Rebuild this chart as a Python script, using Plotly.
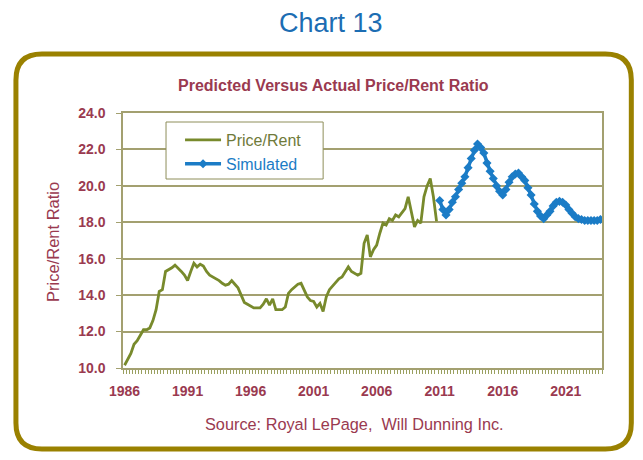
import plotly.graph_objects as go

# ---------------- data ----------------
start_year = 1986
end_year = 2023
quarters = [f"{y}Q{q}" for y in range(start_year, end_year + 1) for q in range(1, 5)]

price_rent = [
    10.15, 10.5, 10.8, 11.3,    # 1986
    11.5, 11.8, 12.1, 12.1,     # 1987
    12.2, 12.6, 13.2, 14.2,     # 1988
    14.3, 15.3, 15.4, 15.5,     # 1989
    15.65, 15.5, 15.3, 15.1,    # 1990
    14.8, 15.3, 15.75, 15.55,   # 1991
    15.7, 15.6, 15.3, 15.1,     # 1992
    15.0, 14.9, 14.8, 14.65,    # 1993
    14.55, 14.6, 14.8, 14.6,    # 1994
    14.4, 14.0, 13.6, 13.5,     # 1995
    13.4, 13.3, 13.3, 13.3,     # 1996
    13.5, 13.8, 13.45, 13.8,    # 1997
    13.2, 13.2, 13.2, 13.35,    # 1998
    14.1, 14.3, 14.45, 14.6,    # 1999
    14.65, 14.3, 13.9, 13.7,    # 2000
    13.65, 13.35, 13.55, 13.1,  # 2001
    13.9, 14.3, 14.5, 14.75,    # 2002
    14.9, 15.0, 15.3, 15.55,    # 2003
    15.3, 15.2, 15.1, 15.2,     # 2004
    16.85, 17.3, 16.1, 16.5,    # 2005
    16.75, 17.4, 17.95, 17.85,  # 2006
    18.2, 18.1, 18.4, 18.3,     # 2007
    18.5, 18.75, 19.4, 18.6,    # 2008
    17.75, 18.1, 17.95, 19.4,   # 2009
    20.0, 20.4, 19.4, 18.05,    # 2010
]

simulated = [
    19.2, 18.7, 18.4, 18.7,     # 2011
    19.1, 19.4, 19.8, 20.15,    # 2012
    20.5, 21.0, 21.5, 21.95,    # 2013
    22.3, 22.1, 21.8, 21.25,    # 2014
    20.8, 20.4, 20.0, 19.7,     # 2015
    19.5, 19.8, 20.2, 20.5,     # 2016
    20.65, 20.7, 20.5, 20.3,    # 2017
    19.9, 19.5, 19.0, 18.6,     # 2018
    18.35, 18.2, 18.4, 18.6,    # 2019
    18.9, 19.1, 19.15, 19.1,    # 2020
    18.95, 18.7, 18.5, 18.3,    # 2021
    18.2, 18.15, 18.1, 18.1,    # 2022
    18.1, 18.1, 18.1, 18.15,    # 2023
]

tick_labels = ["1986", "1991", "1996", "2001", "2006", "2011", "2016", "2021"]
y_ticks = [10, 12, 14, 16, 18, 20, 22, 24]

# ---------------- styling ----------------
OFF = 8  # page body margin offset
W, H = 643 - 2 * OFF, 460 - 2 * OFF
ML, MT = 123 - OFF, 113 - OFF
PW, PH = 478.7, 255
MR = W - ML - PW
MB = H - MT - PH

MAROON = "#9a3a50"
GREEN = "#788a2c"
BLUE = "#1b7cc6"
GRID = "#a3a070"
GOLD = "#9a8100"
FONT = "Liberation Sans, Arial, sans-serif"

idx = list(range(len(quarters)))
green_x = idx[:len(price_rent)]
blue_x = idx[len(price_rent):len(price_rent) + len(simulated)]
tick_pos = [quarters.index(f"{t}Q1") for t in tick_labels]

fig = go.Figure()
fig.add_trace(go.Scatter(
    x=green_x, y=price_rent, mode="lines", legendgroup="a",
    name="<span style='color:#6f7a3a'>Price/Rent</span>",
    line=dict(color=GREEN, width=2.8),
))
fig.add_trace(go.Scatter(
    x=blue_x, y=simulated, mode="lines+markers", legendgroup="b",
    name=f"<span style='color:{BLUE}'>Simulated</span>",
    line=dict(color=BLUE, width=3.5),
    marker=dict(symbol="diamond", size=7, color=BLUE),
))


def px2paper(x, y):
    """reference-image pixel -> paper coords"""
    x, y = x - OFF, y - OFF
    return (x - ML) / PW, (MT + PH - y) / PH


def rounded_rect(x0, y0, x1, y1, r):
    def P(x, y):
        a, b = px2paper(x, y)
        return f"{a:.5f},{b:.5f}"
    return (
        f"M {P(x0 + r, y0)} L {P(x1 - r, y0)} Q {P(x1, y0)} {P(x1, y0 + r)} "
        f"L {P(x1, y1 - r)} Q {P(x1, y1)} {P(x1 - r, y1)} "
        f"L {P(x0 + r, y1)} Q {P(x0, y1)} {P(x0, y1 - r)} "
        f"L {P(x0, y0 + r)} Q {P(x0, y0)} {P(x0 + r, y0)} Z"
    )


# outer rounded frame
fig.add_shape(type="path", xref="paper", yref="paper",
              path=rounded_rect(16, 54, 631, 449, 26),
              line=dict(color=GOLD, width=5), layer="below")

# legend box
bx0, by0 = px2paper(166, 122)
bx1, by1 = px2paper(323, 179)
fig.add_shape(type="rect", xref="paper", yref="paper",
              x0=bx0, y0=by0, x1=bx1, y1=by1,
              line=dict(color="#8e8e5a", width=1), fillcolor="white", layer="above")

lx, ly = px2paper(180, 123)
fig.update_layout(
    width=W, height=H,
    margin=dict(l=ML, r=MR, t=MT, b=MB),
    paper_bgcolor="white", plot_bgcolor="white",
    font=dict(family=FONT, color=MAROON, size=11),
    showlegend=True,
    legend=dict(
        x=lx, y=ly, xanchor="left", yanchor="top",
        bgcolor="rgba(0,0,0,0)", borderwidth=0,
        font=dict(family=FONT, size=16, color="#6f7a3a"),
        itemwidth=36, tracegroupgap=6, traceorder="normal",
    ),
    xaxis=dict(
        range=[-0.5, len(quarters) - 0.5],
        tickmode="array", tickvals=tick_pos, ticktext=tick_labels,
        showgrid=False, zeroline=False,
        showline=True, linecolor=GRID, linewidth=1.5, mirror=True,
        ticks="", ticklabelstandoff=9,
        tickfont=dict(family=FONT, size=14, color=MAROON, weight="bold"),
        minor=dict(dtick=1, tick0=-0.5, ticks="outside", ticklen=4,
                   tickcolor="#9aa060", tickwidth=1, showgrid=False),
    ),
    yaxis=dict(
        range=[10, 24], tickmode="array", tickvals=y_ticks,
        tickformat=".1f",
        showgrid=True, gridcolor=GRID, gridwidth=1.6,
        zeroline=False,
        showline=True, linecolor=GRID, linewidth=1.5, mirror=True,
        ticks="outside", ticklen=5, tickcolor=GRID, ticklabelstandoff=8,
        tickfont=dict(family=FONT, size=14, color=MAROON, weight="bold"),
    ),
)


def add_text(text, x, y, size, color=MAROON, weight="normal", angle=0, family=FONT):
    px, py = px2paper(x, y)
    fig.add_annotation(text=text, xref="paper", yref="paper", x=px, y=py,
                       textangle=angle, showarrow=False,
                       xanchor="center", yanchor="middle",
                       font=dict(family=family, size=size, color=color, weight=weight))


add_text("Chart 13", 331, 23, 27, color="#1c6db3")
add_text("Predicted Versus Actual Price/Rent Ratio", 333, 86, 16, weight="bold")
add_text("Price/Rent Ratio", 53, 242, 16.5, angle=-90)
add_text("Source: Royal LePage,  Will Dunning Inc.", 354, 424, 16.3)

fig.write_html("out.html")
